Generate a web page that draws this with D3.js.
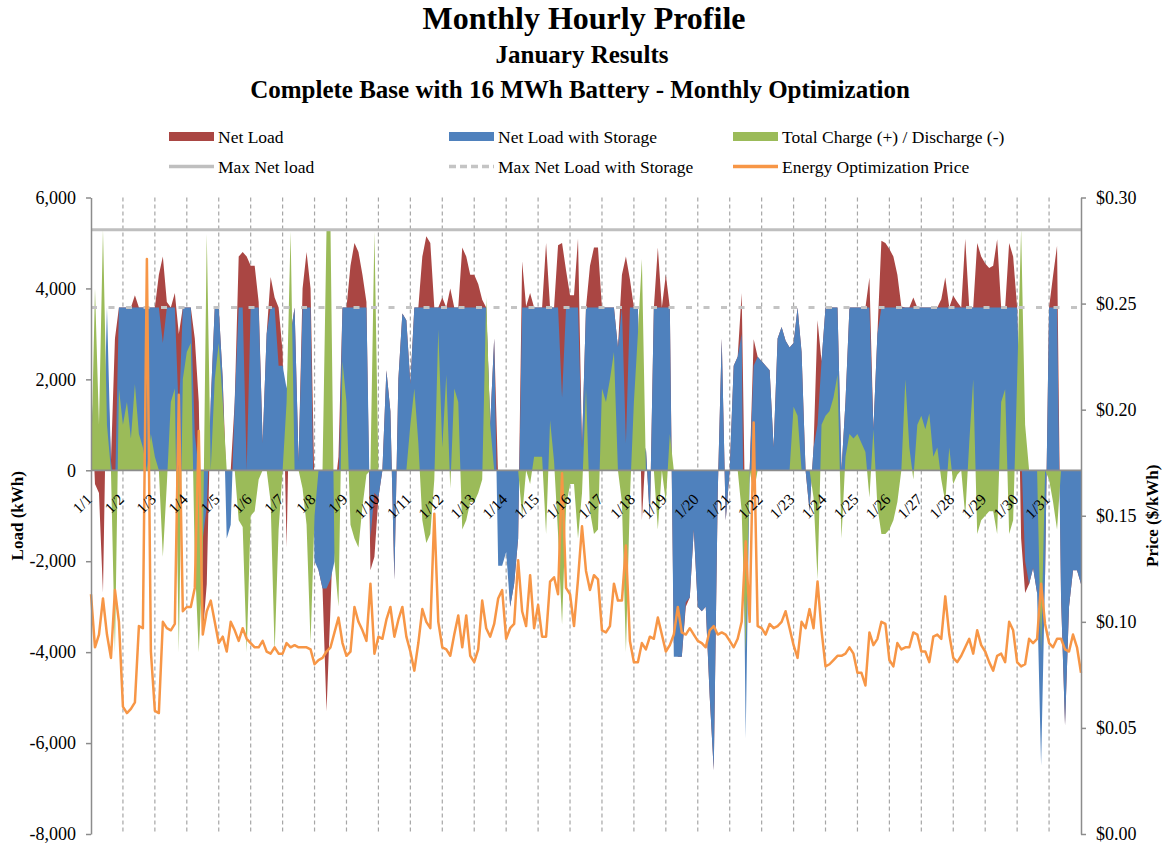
<!DOCTYPE html>
<html>
<head>
<meta charset="utf-8">
<script src="https://cdn.jsdelivr.net/npm/d3@7"></script>
<style>
  body { margin: 0; background: #fff; }
  svg text { font-family: "Liberation Serif", "Times New Roman", serif; fill: #000; }
</style>
</head>
<body>
<div id="chart"></div>
<script>
const dayLabels = ["1/1","1/2","1/3","1/4","1/5","1/6","1/7","1/8","1/9","1/10","1/11","1/12","1/13","1/14","1/15","1/16",
  "1/17","1/18","1/19","1/20","1/21","1/22","1/23","1/24","1/25","1/26","1/27","1/28","1/29","1/30","1/31"];
const sampleHours = d3.range(0, 745, 3); // hour of month for each sample

// Net Load (kWh), one row per day
const netLoad = [
  1850, -300, -500, -2700, 2600, 200, 2900, 3580,
  3580, 3580, 3580, 3850, 3580, 3580, 3580, 3580,
  3580, 4300, 4700, 3700, 3580, 3900, 3000, 3580,
  3580, 3580, 2900, 1500, -3600, -2500, 1500, 3580,
  3580, 2000, -500, 0, 1500, 4700, 4800, 4700,
  4500, 4500, 3700, 600, 3000, 4250, 3800, 3580,
  2600, -1700, 3000, 3580, 200, 4000, 4800, 4000,
  -500, -2200, -2600, -5300, -3000, -500, 300, 3580,
  3580, 4500, 5000, 4800, 4300, 3700, -2200, -1900,
  -600, 0, 2200, 1300, -2400, 2000, 3450, 3300,
  1900, 3580, 3580, 4700, 5150, 5000, 3580, 3580,
  3800, 3580, 4000, 3580, 3580, 4900, 4700, 4300,
  4300, 4100, 3750, 3580, 1000, 2900, -200, -1200,
  -1200, -3000, -2500, -1500, 4600, 3600, 3900, 3580,
  3580, 3580, 5000, 3580, 3580, 4950, 5000, 4400,
  3850, 3850, 5100, 500, 3580, 4500, 4900, 4900,
  3580, 3580, 3580, 3580, 2700, 4300, 4700, 4200,
  3580, 3580, -1100, 500, -1100, 3580, 4900, 3580,
  4300, 3580, -3800, -4100, -4100, -3000, -2800, -1300,
  -3000, -3100, -3000, -5000, -6600, -500, 2900, -1100,
  0, 2300, 2500, 3900, -1800, 0, 2880, 2500,
  2400, 2300, 2200, 500, 2900, 3150, 2850, 2700,
  2800, 3580, 2600, 0, -900, 500, 3300, 2400,
  3580, 3580, 3580, 3580, 0, 1500, 3580, 3580,
  3580, 3580, 3580, 4240, 900, 3000, 5050, 5000,
  4870, 4700, 4300, 3600, 3580, 3580, 3800, 3580,
  3580, 3580, 3580, 3580, 3580, 3760, 4240, 3580,
  3840, 3700, 3580, 5090, 3580, 3580, 5000, 4700,
  4550, 4450, 4500, 5080, 3580, 3580, 5000, 4700,
  3580, -1500, -2700, -2500, -2150, -2700, -2500, -2300,
  3580, 4280, 4940, -2800, -5600, -3000, -2200, -2200, -2500
];

// Net Load with Storage (kWh)
const netLoadStorage = [
  1850, 300, 0, 0, 3580, 200, -500, 3580,
  3580, 3580, 3580, 3580, 3580, 3580, 3580, 3580,
  3580, 3580, 2800, 3580, 3580, 3580, 1200, 3580,
  3580, 3580, 800, 0, -1500, -800, 1500, 3580,
  3580, 2000, -1500, -1200, 1500, 3580, 3580, 0,
  3580, 3580, 3580, 600, 3000, 3580, 3580, 2300,
  2300, 1800, 3000, 3580, 200, 3580, 3580, 3580,
  -2000, -2200, -2600, -2600, -2400, -2000, -500, 3580,
  3580, 3580, 3580, 3580, 3580, 3580, -1500, -500,
  -600, 0, 2200, 1300, -2400, 2000, 3450, 3300,
  1900, 3580, 3580, 3580, 3580, 3580, 3580, 3580,
  3580, 3580, 3580, 3580, 3580, 3580, 3580, 3580,
  3580, 3580, 3580, 3580, 1000, 2900, -2100, -2100,
  -1800, -3000, -2500, -1500, 3580, 3580, 3580, 3580,
  3580, 3580, 3580, 3580, 3580, 3580, 1600, 3580,
  3580, 3580, 3580, 500, 3580, 3580, 3580, 3580,
  3580, 3580, 3580, 3580, 2700, 3580, 600, 3580,
  3580, 3580, 0, 500, -1100, 3580, 3580, 3580,
  3580, 3580, -4100, -4100, -4100, -2900, -2800, -1300,
  -3000, -3100, -3000, -5000, -6600, -500, 2900, -1100,
  0, 2300, 2500, 3000, -5900, 0, 2300, 2500,
  2400, 2300, 2200, 500, 2900, 3150, 2850, 2700,
  2800, 3580, 2600, 0, -900, 500, 1000, 2400,
  3580, 3580, 3580, 3580, 0, 1500, 3580, 3580,
  3580, 3580, 3580, 3580, 900, 3000, 3580, 3580,
  3580, 3580, 3580, 3580, 3580, 3580, 3580, 3580,
  3580, 3580, 3580, 3580, 3580, 3580, 3580, 3580,
  3580, 3580, 3580, 3580, 3580, 3580, 3580, 3580,
  3580, 3580, 3580, 3580, 3580, 3580, 3580, 3580,
  3580, 500, -2000, -2500, -2150, -2700, -6500, -2300,
  3580, 3580, 3580, -2800, -5600, -3000, -2200, -2200, -2500
];

// Total Charge (+) / Discharge (-) (kWh)
const chargeDischarge = [
  0, 4000, 1000, 5300, 1000, 0, -4000, 1800,
  1000, 1500, 700, 1900, 800, 500, 0, 800,
  300, 0, -1900, -300, 1500, 1800, -4000, 2000,
  2600, 2800, -2000, -4000, -2000, 5200, 0, 2000,
  2800, 1500, 0, 0, 0, -1100, -1250, -4000,
  -1000, -900, -200, 0, 0, -700, -4000, -1300,
  0, 1500, 5250, 0, 0, -400, -1200, -3800,
  -1000, 0, 0, 5300, 5300, -2000, -3000, 2400,
  1500, -1200, -1500, -1700, -800, -100, 0, 5250,
  0, 0, 0, 0, 0, 0, 0, 0,
  1000, 1800, 600, -1100, -1600, -1400, -200, 3100,
  500, 2100, -400, 1800, 1500, -1300, -1100, -700,
  -700, -500, -200, 3800, 1000, 0, 0, 0,
  0, 0, 0, 0, -1000, 0, -300, 300,
  300, 300, -1400, 1100, 200, -1400, -3400, -800,
  -300, -300, -1500, -500, 1800, -900, -1400, -1300,
  1800, 1500, 2000, 2600, 0, -700, -4000, -600,
  1500, 3000, 4650, 0, 0, 0, -1300, 0,
  -700, 800, 0, 0, 0, 0, 0, 0,
  0, 0, 0, 0, 0, 0, 0, 0,
  0, 0, 0, -900, -4000, 0, -500, 0,
  0, 0, 0, 0, 0, 0, 0, 0,
  1400, 1200, 0, 0, 0, -600, -2400, 1000,
  1200, 1300, 1600, 2100, -1500, 300, 800, 700,
  800, 600, 400, -600, 900, -800, -1400, -1400,
  -1300, -1100, -700, 0, 2000, 500, -200, 1000,
  1200, 900, 1250, 300, 500, -200, -700, 500,
  -300, -100, 0, -1000, 600, 2000, -1400, -1100,
  -1000, -900, -900, -1400, 1500, 1780, -1400, -1100,
  2000, 5300, 1000, 0, 0, 0, -4000, 0,
  -200, -700, -1300, 0, 0, 0, 0, 0, 0
];

// Energy Optimization Price ($/kWh)
const price = [
  0.113, 0.088, 0.094, 0.111, 0.094, 0.083, 0.115, 0.100,
  0.060, 0.057, 0.059, 0.062, 0.098, 0.097, 0.271, 0.086,
  0.058, 0.057, 0.100, 0.097, 0.096, 0.099, 0.207, 0.105,
  0.107, 0.107, 0.116, 0.190, 0.094, 0.105, 0.110, 0.100,
  0.090, 0.093, 0.086, 0.100, 0.096, 0.091, 0.097, 0.092,
  0.090, 0.088, 0.088, 0.091, 0.086, 0.085, 0.088, 0.085,
  0.085, 0.090, 0.088, 0.089, 0.088, 0.088, 0.088, 0.087,
  0.080, 0.082, 0.083, 0.086, 0.088, 0.095, 0.102, 0.090,
  0.084, 0.086, 0.107, 0.100, 0.096, 0.091, 0.118, 0.085,
  0.093, 0.092, 0.101, 0.107, 0.093, 0.101, 0.107, 0.093,
  0.086, 0.077, 0.090, 0.106, 0.100, 0.097, 0.151, 0.100,
  0.088, 0.087, 0.084, 0.094, 0.103, 0.088, 0.103, 0.084,
  0.081, 0.087, 0.110, 0.097, 0.093, 0.099, 0.111, 0.115,
  0.092, 0.097, 0.099, 0.129, 0.105, 0.098, 0.122, 0.097,
  0.108, 0.093, 0.093, 0.119, 0.121, 0.113, 0.170, 0.116,
  0.113, 0.098, 0.120, 0.145, 0.124, 0.115, 0.122, 0.120,
  0.096, 0.095, 0.098, 0.118, 0.110, 0.110, 0.136, 0.091,
  0.081, 0.081, 0.090, 0.087, 0.093, 0.092, 0.102, 0.094,
  0.086, 0.089, 0.094, 0.107, 0.095, 0.094, 0.097, 0.094,
  0.091, 0.090, 0.088, 0.096, 0.098, 0.094, 0.095, 0.094,
  0.091, 0.088, 0.092, 0.100, 0.138, 0.100, 0.194, 0.098,
  0.097, 0.094, 0.099, 0.097, 0.098, 0.100, 0.105, 0.097,
  0.089, 0.083, 0.100, 0.097, 0.106, 0.097, 0.119, 0.096,
  0.079, 0.080, 0.082, 0.084, 0.084, 0.085, 0.088, 0.085,
  0.076, 0.076, 0.070, 0.095, 0.089, 0.092, 0.100, 0.099,
  0.082, 0.079, 0.090, 0.087, 0.088, 0.088, 0.095, 0.094,
  0.086, 0.086, 0.081, 0.093, 0.094, 0.092, 0.112, 0.094,
  0.083, 0.081, 0.084, 0.088, 0.092, 0.085, 0.096, 0.089,
  0.086, 0.081, 0.077, 0.084, 0.085, 0.081, 0.100, 0.096,
  0.081, 0.079, 0.080, 0.092, 0.090, 0.092, 0.118, 0.099,
  0.090, 0.088, 0.092, 0.092, 0.087, 0.086, 0.094, 0.088, 0.076
];

const maxNetLoad = 5290;
const maxNetLoadStorage = 3580;
const loadTicks = [-8000, -6000, -4000, -2000, 0, 2000, 4000, 6000];
const priceTicks = [0, 0.05, 0.10, 0.15, 0.20, 0.25, 0.30];

// ---- Layout ----
const W = 1165, H = 848;
const plot = { left: 91, right: 1081, top: 197.5, bottom: 834 };

const svg = d3.select("#chart").append("svg")
    .attr("width", W)
    .attr("height", H);

const x = d3.scaleLinear().domain([0, 744]).range([plot.left, plot.right]);
const yL = d3.scaleLinear().domain([-8000, 6000]).range([plot.bottom, plot.top]);
const yR = d3.scaleLinear().domain([0, 0.30]).range([plot.bottom, plot.top]);

// --- Titles ---
svg.append("text").attr("x", 584).attr("y", 29).attr("text-anchor", "middle")
    .style("font-size", "32px").style("font-weight", "bold").text("Monthly Hourly Profile");
svg.append("text").attr("x", 582).attr("y", 63).attr("text-anchor", "middle")
    .style("font-size", "25px").style("font-weight", "bold").text("January Results");
svg.append("text").attr("x", 580).attr("y", 98).attr("text-anchor", "middle")
    .style("font-size", "25px").style("font-weight", "bold")
    .text("Complete Base with 16 MWh Battery - Monthly Optimization");

// --- Day gridlines (behind the areas) ---
svg.append("g").selectAll("line")
    .data(dayLabels.slice(1).map((d, i) => (i + 1) * 24))
    .enter().append("line")
    .attr("x1", d => x(d)).attr("x2", d => x(d))
    .attr("y1", plot.top).attr("y2", plot.bottom)
    .attr("stroke", "#a6a6a6").attr("stroke-width", 1.2)
    .attr("stroke-dasharray", "4,3");

// --- Areas ---
const area = d3.area()
    .x((d, i) => x(sampleHours[i]))
    .y0(yL(0))
    .y1(d => yL(d));

const areaSeries = [
    { values: netLoad, color: "#aa4643" },
    { values: netLoadStorage, color: "#4f81bd" },
    { values: chargeDischarge, color: "#9bbb59" }
];
areaSeries.forEach(s => {
    svg.append("path").attr("d", area(s.values)).attr("fill", s.color);
});

// --- Zero (category) axis line ---
svg.append("line")
    .attr("x1", plot.left).attr("x2", plot.right)
    .attr("y1", yL(0)).attr("y2", yL(0))
    .attr("stroke", "#8c8c8c").attr("stroke-width", 1.8);

// --- Max lines ---
svg.append("line")
    .attr("x1", plot.left).attr("x2", plot.right)
    .attr("y1", yL(maxNetLoad)).attr("y2", yL(maxNetLoad))
    .attr("stroke", "#bfbfbf").attr("stroke-width", 3);
svg.append("line")
    .attr("x1", plot.left).attr("x2", plot.right)
    .attr("y1", yL(maxNetLoadStorage)).attr("y2", yL(maxNetLoadStorage))
    .attr("stroke", "#c4c4c4").attr("stroke-width", 3)
    .attr("stroke-dasharray", "6,11.5");

// --- Price line ---
const priceLine = d3.line()
    .x((d, i) => x(sampleHours[i]))
    .y(d => yR(d));
svg.append("path").attr("d", priceLine(price))
    .attr("fill", "none").attr("stroke", "#f79646")
    .attr("stroke-width", 2.5).attr("stroke-linejoin", "round");

// --- Axes ---
const fmtLoad = d => (d < 0 ? "-" : "") + d3.format(",")(Math.abs(d));

const leftAxis = svg.append("g")
    .attr("transform", `translate(${plot.left},0)`)
    .call(d3.axisLeft(yL).tickValues(loadTicks).tickFormat(fmtLoad).tickSize(5).tickSizeOuter(0).tickPadding(10));

const rightAxis = svg.append("g")
    .attr("transform", `translate(${plot.right},0)`)
    .call(d3.axisRight(yR).tickValues(priceTicks).tickFormat(d => "$" + d.toFixed(2)).tickSize(5).tickSizeOuter(0).tickPadding(10));

[leftAxis, rightAxis].forEach(g => {
    g.select(".domain").attr("stroke", "#8c8c8c").attr("stroke-width", 1.5);
    g.selectAll(".tick line").attr("stroke", "#8c8c8c").attr("stroke-width", 1.5);
    g.selectAll(".tick text").style("font-size", "18px").attr("fill", "#000");
});

// Day labels along the zero line
svg.append("g").selectAll("text")
    .data(dayLabels)
    .enter().append("text")
    .attr("transform", (d, i) => `translate(${x(i * 24) + 2},${yL(0) + 30}) rotate(-45)`)
    .attr("text-anchor", "end")
    .style("font-size", "15.5px")
    .text(d => d);

// Axis titles
svg.append("text")
    .attr("transform", `translate(23,${(plot.top + plot.bottom) / 2}) rotate(-90)`)
    .attr("text-anchor", "middle")
    .style("font-size", "17px").style("font-weight", "bold")
    .text("Load (kWh)");
svg.append("text")
    .attr("transform", `translate(1158,${(plot.top + plot.bottom) / 2}) rotate(-90)`)
    .attr("text-anchor", "middle")
    .style("font-size", "17px").style("font-weight", "bold")
    .text("Price ($/kWh)");

// --- Legend ---
const legendItems = [
    { label: "Net Load", kind: "rect", color: "#aa4643", col: 0, row: 0 },
    { label: "Net Load with Storage", kind: "rect", color: "#4f81bd", col: 1, row: 0 },
    { label: "Total Charge (+) / Discharge (-)", kind: "rect", color: "#9bbb59", col: 2, row: 0 },
    { label: "Max Net load", kind: "line", color: "#bfbfbf", col: 0, row: 1 },
    { label: "Max Net Load with Storage", kind: "dash", color: "#c4c4c4", col: 1, row: 1 },
    { label: "Energy Optimization Price", kind: "line", color: "#f79646", col: 2, row: 1 }
];
const legendCols = [169, 449, 733];
const legendRows = [136.5, 166.5];

const legend = svg.append("g").selectAll("g")
    .data(legendItems)
    .enter().append("g")
    .attr("transform", d => `translate(${legendCols[d.col]},${legendRows[d.row]})`);

legend.filter(d => d.kind === "rect").append("rect")
    .attr("x", 0).attr("y", -4.5).attr("width", 45).attr("height", 9)
    .attr("fill", d => d.color);
legend.filter(d => d.kind !== "rect").append("line")
    .attr("x1", 0).attr("x2", 45).attr("y1", 0).attr("y2", 0)
    .attr("stroke", d => d.color).attr("stroke-width", 3.5)
    .attr("stroke-dasharray", d => d.kind === "dash" ? "7,4" : null);
legend.append("text")
    .attr("x", 49).attr("y", 6)
    .style("font-size", "17.5px")
    .text(d => d.label);
</script>
</body>
</html>
